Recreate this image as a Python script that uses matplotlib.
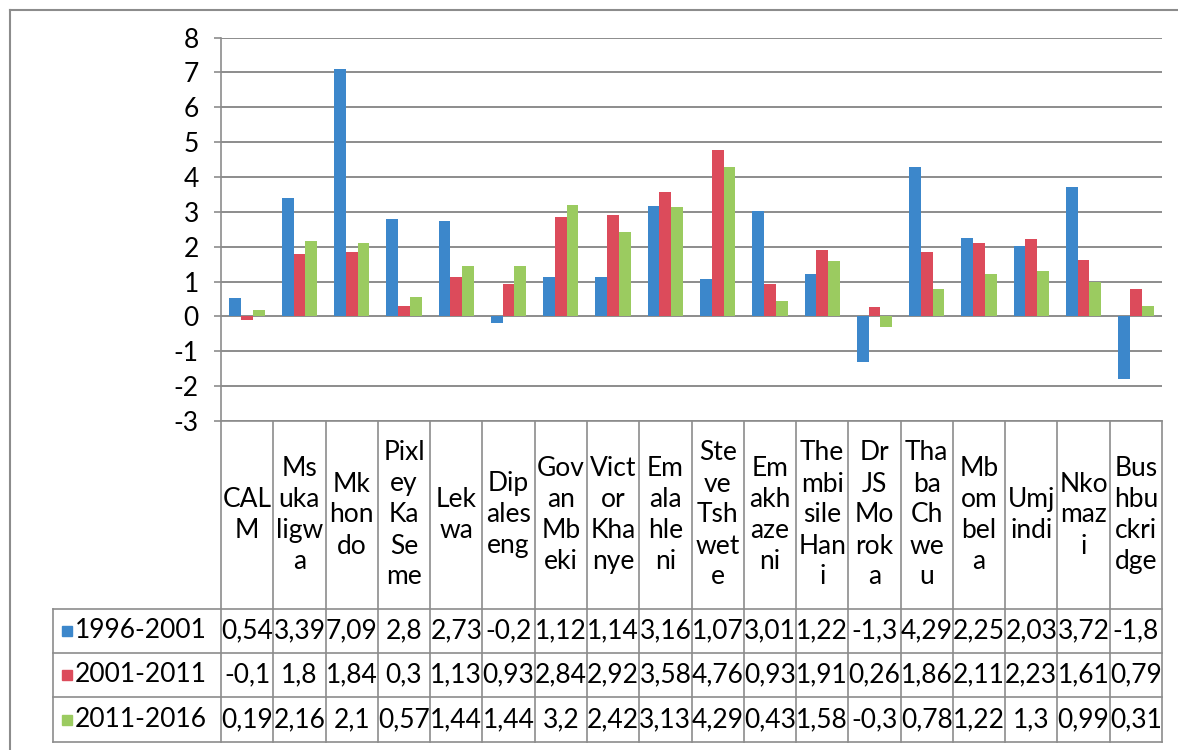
import numpy as np
import matplotlib.pyplot as plt

# municipalities, wrapped the way the table column shows them
categories = ["CAL\nM", "Ms\nuka\nligw\na", "Mk\nhon\ndo", "Pixl\ney\nKa\nSe\nme",
              "Lek\nwa", "Dip\nales\neng", "Gov\nan\nMb\neki", "Vict\nor\nKha\nnye",
              "Em\nala\nhle\nni", "Ste\nve\nTsh\nwet\ne", "Em\nakh\naze\nni",
              "The\nmbi\nsile\nHan\ni", "Dr\nJS\nMo\nrok\na", "Tha\nba\nCh\nwe\nu",
              "Mb\nom\nbel\na", "Umj\nindi", "Nko\nmaz\ni", "Bus\nhbu\nckri\ndge"]

periods = ["1996-2001", "2001-2011", "2011-2016"]
growth_1996_2001 = [0.54, 3.39, 7.09, 2.8, 2.73, -0.2, 1.12, 1.14, 3.16, 1.07, 3.01, 1.22,
                    -1.3, 4.29, 2.25, 2.03, 3.72, -1.8]
growth_2001_2011 = [-0.1, 1.8, 1.84, 0.3, 1.13, 0.93, 2.84, 2.92, 3.58, 4.76, 0.93, 1.91,
                    0.26, 1.86, 2.11, 2.23, 1.61, 0.79]
growth_2011_2016 = [0.19, 2.16, 2.1, 0.57, 1.44, 1.44, 3.2, 2.42, 3.13, 4.29, 0.43, 1.58,
                    -0.3, 0.78, 1.22, 1.3, 0.99, 0.31]

colors = ["#3c87cb", "#dc4b5b", "#9bcb60"]
grid = "#8c8c8c"
fs = 19

plt.rcParams['font.family'] = ['Lato', 'DejaVu Sans']
plt.rcParams['axes.unicode_minus'] = False

W, H = 1178, 750
fig = plt.figure(figsize=(W / 100, H / 100), dpi=100)

ax = fig.add_axes([221 / W, 1 - 421 / H, 941 / W, (421 - 37.5) / H])
series = [growth_1996_2001, growth_2001_2011, growth_2011_2016]
n = len(categories)
x = np.arange(n)
bw = 0.225
for k, (vals, c) in enumerate(zip(series, colors)):
    ax.bar(x + (k - 1) * bw, vals, bw, color=c, zorder=3)

ax.set_xlim(-0.5, n - 0.5)
ax.set_ylim(-3, 8)
ax.set_yticks(range(-3, 9))
ax.set_xticks([])
ax.grid(axis='y', color=grid, lw=1.4, zorder=0)
for s in ['top', 'right', 'bottom']:
    ax.spines[s].set_visible(False)
ax.spines['left'].set_color(grid)
ax.spines['left'].set_linewidth(1.2)
ax.tick_params(axis='y', length=5, width=1.2, color=grid, labelsize=fs, pad=11)

# data table under the chart: x in category units, y in pixels
tab = fig.add_axes([0, 0, 1, 1])
tab.set_axis_off()
tab.patch.set_visible(False)
pos = ax.get_position()
span = n / pos.width
x0 = -0.5 - pos.x0 * span
tab.set_xlim(x0, x0 + span)
tab.set_ylim(H, 0)


def px(p):
    return x0 + p / W * span


left = px(53)
row_lines = [609, 653, 697, 742]
lw = 1.2
tab.plot([-0.5, n - 0.5], [421, 421], color=grid, lw=lw)
for y in row_lines:
    tab.plot([left, n - 0.5], [y, y], color=grid, lw=lw)
for i in range(n + 1):
    tab.plot([i - 0.5, i - 0.5], [421, row_lines[-1]], color=grid, lw=lw)
tab.plot([left, left], [row_lines[0], row_lines[-1]], color=grid, lw=lw)

for i, lab in enumerate(categories):
    tab.text(i, 515, lab, ha='center', va='center', fontsize=fs, linespacing=1.3)

for r, (name, vals, c) in enumerate(zip(periods, series, colors)):
    yc = (row_lines[r] + row_lines[r + 1]) / 2
    tab.plot(px(67), yc, marker='s', ms=7.5, color=c, mec=c)
    tab.text(px(75), yc, name, ha='left', va='center', fontsize=fs)
    for i, v in enumerate(vals):
        tab.text(i, yc, str(v).replace('.', ','), ha='center', va='center', fontsize=fs)

# outer frame
tab.plot([px(10), px(W)], [10, 10], color=grid, lw=1.5)
tab.plot([px(10), px(10)], [10, H], color=grid, lw=1.5)

fig.savefig("out.png", dpi=100)
